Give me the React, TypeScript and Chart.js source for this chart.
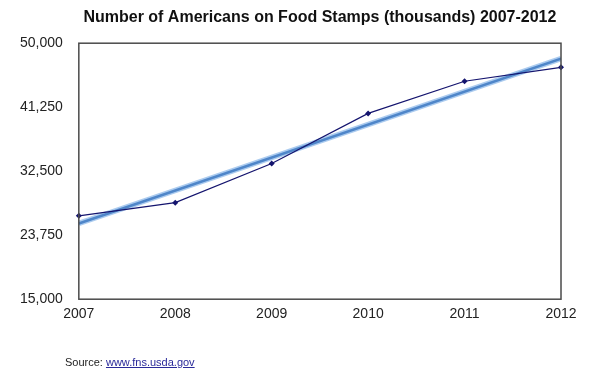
import React, { useEffect, useRef } from "react";
import { Chart, registerables } from "chart.js";

Chart.register(...registerables);

const years = [2007, 2008, 2009, 2010, 2011, 2012];
const foodStamps = [26400, 28200, 33550, 40400, 44800, 46700];
const trendYears = [2007, 2012];
const trendValues = [25350, 47900];
const yTicks = [15000, 23750, 32500, 41250, 50000];

const framePlugin = {
  id: "frame",
  afterDraw(chart: any) {
    const { ctx, chartArea } = chart;
    ctx.save();
    ctx.strokeStyle = "#4a4a4a";
    ctx.lineWidth = 1.5;
    ctx.strokeRect(chartArea.left, chartArea.top, chartArea.right - chartArea.left, chartArea.bottom - chartArea.top);
    ctx.restore();
  },
};

export default function App() {
  const ref = useRef<HTMLCanvasElement | null>(null);
  useEffect(() => {
    document.body.style.margin = "0";
    const font = "'Liberation Sans', Arial, Helvetica, sans-serif";
    const chart = new Chart(ref.current!, {
      type: "line",
      data: {
        datasets: [
          {
            label: "Food stamps",
            data: years.map((x, i) => ({ x, y: foodStamps[i] })),
            borderColor: "#14146e",
            backgroundColor: "#14146e",
            borderWidth: 1.2,
            pointStyle: "rectRot",
            pointRadius: 3,
            pointBorderWidth: 0,
            clip: false,
            order: 1,
          },
          {
            label: "Trend glow",
            data: trendYears.map((x, i) => ({ x, y: trendValues[i] })),
            borderColor: "rgba(150,190,235,0.8)",
            borderWidth: 5.5,
            pointRadius: 0,
            order: 3,
          },
          {
            label: "Trend",
            data: trendYears.map((x, i) => ({ x, y: trendValues[i] })),
            borderColor: "#4f86c9",
            borderWidth: 2.5,
            pointRadius: 0,
            order: 2,
          },
        ],
      },
      options: {
        animation: false,
        responsive: false,
        layout: { padding: { left: 4, right: 30, top: 0, bottom: 52 } },
        plugins: {
          legend: { display: false },
          tooltip: { enabled: false },
          title: {
            display: true,
            text: "Number of Americans on Food Stamps (thousands) 2007-2012",
            fullSize: false,
            color: "#111",
            font: { family: font, size: 16, weight: "bold" },
            padding: { top: 8, bottom: 16 },
          },
        },
        scales: {
          x: {
            type: "linear",
            min: 2007,
            max: 2012,
            grid: { display: false, drawTicks: false },
            border: { display: false },
            afterBuildTicks(axis: any) {
              axis.ticks = years.map((v) => ({ value: v }));
            },
            ticks: {
              color: "#222",
              font: { family: font, size: 14 },
              padding: 7,
              maxRotation: 0,
              callback: (v: any) => String(v),
            },
          },
          y: {
            min: 15000,
            max: 50000,
            grid: { display: false, drawTicks: false },
            border: { display: false },
            afterBuildTicks(axis: any) {
              axis.ticks = yTicks.map((v) => ({ value: v }));
            },
            ticks: {
              color: "#222",
              font: { family: font, size: 14 },
              padding: 16,
              callback: (v: any) => Number(v).toLocaleString("en-US"),
            },
          },
        },
      },
      plugins: [framePlugin],
    });
    return () => chart.destroy();
  }, []);
  return (
    <div style={{ position: "relative", width: 591, height: 382, background: "#fff" }}>
      <canvas ref={ref} width={591} height={382} style={{ display: "block" }} />
      <div
        style={{
          position: "absolute",
          left: 65,
          top: 356,
          fontFamily: "'Liberation Sans', Arial, sans-serif",
          fontSize: 11,
          color: "#222",
        }}
      >
        Source: <span style={{ color: "#2a2a9a", textDecoration: "underline" }}>www.fns.usda.gov</span>
      </div>
    </div>
  );
}
